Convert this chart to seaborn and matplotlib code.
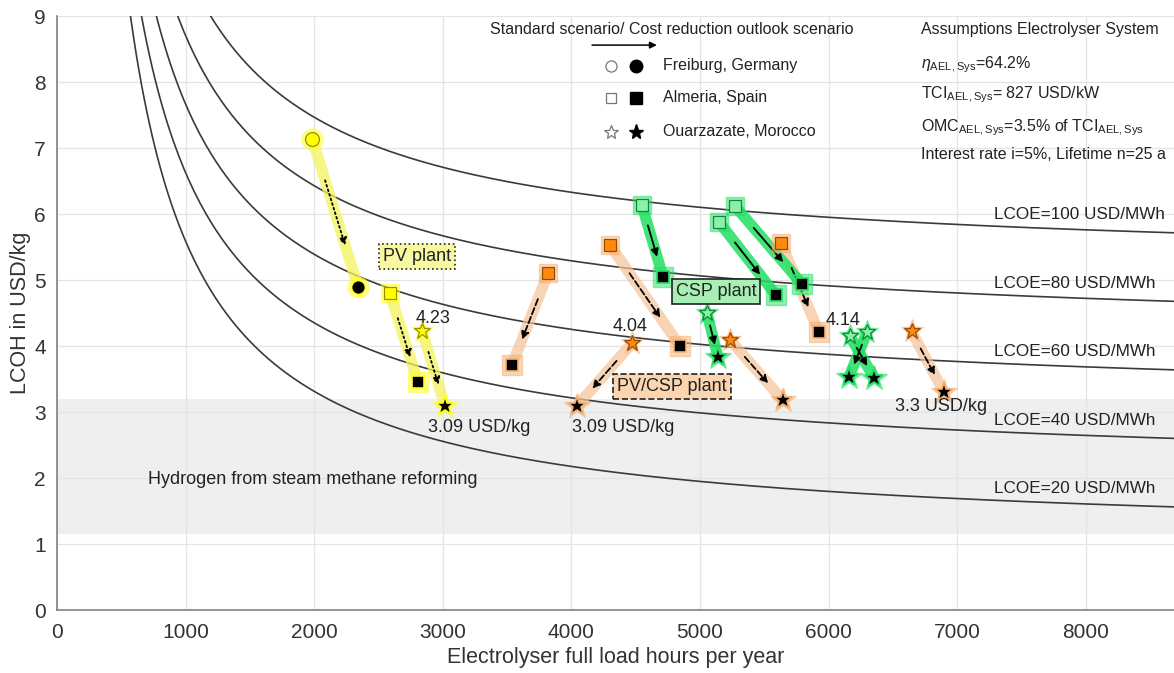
import numpy as np
import pandas as pd
import matplotlib
matplotlib.use("Agg")
import matplotlib.pyplot as plt
import seaborn as sns

# ---------------- data ----------------
# assumptions (from the chart text) used for the LCOE iso-lines
lcoe_levels = [20, 40, 60, 80, 100]          # USD/MWh
eta_sys = 0.642
tci = 827.0                                  # USD/kW
omc_share = 0.035
interest = 0.05
lifetime = 25
lhv_h2 = 33.33                               # kWh/kg

# PV plant (start = standard scenario, end = cost reduction outlook)
pv_site = ["Freiburg", "Almeria", "Ouarzazate"]
pv_x0 = [1985, 2589, 2838]
pv_y0 = [7.14, 4.80, 4.23]
pv_x1 = [2341, 2807, 3017]
pv_y1 = [4.89, 3.45, 3.09]

# PV/CSP plant
hyb_site = ["Almeria", "Almeria", "Almeria", "Ouarzazate", "Ouarzazate", "Ouarzazate"]
hyb_x0 = [3818, 4300, 5630, 4471, 5233, 6645]
hyb_y0 = [5.10, 5.53, 5.56, 4.04, 4.09, 4.22]
hyb_x1 = [3538, 4844, 5925, 4043, 5645, 6897]
hyb_y1 = [3.71, 4.00, 4.21, 3.09, 3.18, 3.30]

# CSP plant
csp_site = ["Almeria", "Almeria", "Almeria", "Ouarzazate", "Ouarzazate", "Ouarzazate"]
csp_x0 = [4549, 5148, 5272, 5054, 6166, 6299]
csp_y0 = [6.13, 5.88, 6.12, 4.50, 4.15, 4.21]
csp_x1 = [4712, 5591, 5793, 5140, 6353, 6159]
csp_y1 = [5.05, 4.77, 4.94, 3.83, 3.52, 3.53]

# value annotations
ann_text = ["4.23", "3.09 USD/kg", "4.04", "3.09 USD/kg", "4.14", "3.3 USD/kg"]
ann_x = [2924, 3282, 4456, 4401, 6112, 6874]
ann_y = [4.42, 2.77, 4.30, 2.77, 4.39, 3.09]

# plant labels
plant_text = ["PV plant", "PV/CSP plant", "CSP plant"]
plant_x = [2799, 4782, 5124]
plant_y = [5.36, 3.38, 4.82]

smr_low, smr_high = 1.15, 3.2
lcoe_label_x = 7290

x_ticks = [0, 1000, 2000, 3000, 4000, 5000, 6000, 7000, 8000]
y_ticks = [0, 1, 2, 3, 4, 5, 6, 7, 8, 9]

# ---------------- style ----------------
sns.set_theme(style="white")
plt.rcParams["font.family"] = ["Liberation Sans", "DejaVu Sans"]
plt.rcParams["mathtext.fontset"] = "custom"
plt.rcParams["mathtext.rm"] = "Liberation Sans"
plt.rcParams["mathtext.it"] = "Liberation Sans:italic"
plt.rcParams["mathtext.bf"] = "Liberation Sans:bold"

W, H = 1174, 673
fig = plt.figure(figsize=(W / 100, H / 100), dpi=100)
ax = fig.add_axes([57 / W, 63 / H, 1117 / W, 594 / H])
ax.set_xlim(0, 8686)
ax.set_ylim(0, 9)

ax.axhspan(smr_low, smr_high, color="#efefef", zorder=0, lw=0)
ax.set_xticks(x_ticks)
ax.set_yticks(y_ticks)
ax.grid(True, color="#e4e4e4", lw=0.9, zorder=0.5)
ax.set_axisbelow(True)

# LCOE iso-lines
spec_cons = lhv_h2 / eta_sys                      # kWh_el per kg H2
annuity = interest * (1 + interest) ** lifetime / ((1 + interest) ** lifetime - 1)
fix_cost = tci * (annuity + omc_share) * spec_cons  # USD*h/kg
flh = np.linspace(450, 8700, 400)
rows = []
for lc in lcoe_levels:
    for f in flh:
        rows.append({"lcoe": lc, "flh": f, "lcoh": lc / 1000 * spec_cons + fix_cost / f})
curves = pd.DataFrame(rows)
sns.lineplot(data=curves, x="flh", y="lcoh", units="lcoe", estimator=None,
             color="#3a3a3a", lw=1.2, legend=False, ax=ax, zorder=1)
for lc in lcoe_levels:
    yv = lc / 1000 * spec_cons + fix_cost / lcoe_label_x
    ax.text(lcoe_label_x, yv + 0.06, f"LCOE={lc} USD/MWh", fontsize=12.3,
            color="#222", ha="left", va="bottom", zorder=6)

ax.set_xlabel("Electrolyser full load hours per year", fontsize=15.5, color="#333")
ax.set_ylabel("LCOH in USD/kg", fontsize=15.5, color="#333")

markers = {"Freiburg": "o", "Almeria": "s", "Ouarzazate": "*"}
msize = {"o": 10, "s": 8, "*": 12}
msize_end = {"o": 10, "s": 9, "*": 14}

techs = [
    dict(site=pv_site, x0=pv_x0, y0=pv_y0, x1=pv_x1, y1=pv_y1, band="#f4f45c", balpha=0.75,
         face="#ffff00", edge="#9a9000", halo="#ffff20", ls=":"),
    dict(site=hyb_site, x0=hyb_x0, y0=hyb_y0, x1=hyb_x1, y1=hyb_y1, band="#f6c398", balpha=0.7,
         face="#ff8a10", edge="#9a4a00", halo="#f5b070", ls="--"),
    dict(site=csp_site, x0=csp_x0, y0=csp_y0, x1=csp_x1, y1=csp_y1, band="#1fe060", balpha=0.85,
         face="#8ef0a6", edge="#0a8a3a", halo="#25e065", ls="-"),
]

for t in techs:
    for s, a, b, c, d in zip(t["site"], t["x0"], t["y0"], t["x1"], t["y1"]):
        ax.plot([a, c], [b, d], color=t["band"], lw=8, alpha=t["balpha"],
                solid_capstyle="round", zorder=2)
        ax.annotate("", xy=(a + 0.72 * (c - a), b + 0.72 * (d - b)),
                    xytext=(a + 0.28 * (c - a), b + 0.28 * (d - b)),
                    arrowprops=dict(arrowstyle="-|>", color="black", lw=1.3,
                                    linestyle=t["ls"], mutation_scale=11,
                                    shrinkA=0, shrinkB=0), zorder=3)
        m = markers[s]
        ax.plot([a], [b], marker=m, ms=msize[m] + 5, color=t["halo"], alpha=0.5,
                ls="none", zorder=3.5)
        ax.plot([a], [b], marker=m, ms=msize[m], mfc=t["face"], mec=t["edge"], mew=0.9,
                ls="none", zorder=4)
        ax.plot([c], [d], marker=m, ms=msize_end[m] + 5, color=t["halo"], alpha=0.5,
                ls="none", zorder=3.5)
        ax.plot([c], [d], marker=m, ms=msize_end[m], mfc="black", mec=t["halo"], mew=1.2,
                ls="none", zorder=4)

for txt, x, y in zip(ann_text, ann_x, ann_y):
    ax.text(x, y, txt, fontsize=13, color="#222", ha="center", va="center", zorder=6)

boxstyles = [("#f8f8a0", ":"), ("#fbd4b0", "--"), ("#a8efb6", "-")]
for txt, x, y, (fc, ls) in zip(plant_text, plant_x, plant_y, boxstyles):
    ax.text(x, y, txt, fontsize=13, color="#222", ha="center", va="center", zorder=6,
            bbox=dict(boxstyle="square,pad=0.22", fc=fc, ec="#222", lw=1.2, ls=ls))

ax.text(708, (smr_low + smr_high) / 2 - 0.2, "Hydrogen from steam methane reforming",
        fontsize=13, color="#222", ha="left", va="center", zorder=6)

# scenario legend (axes fraction)
tA = ax.transAxes
ax.text(0.388, 0.978, "Standard scenario/ Cost reduction outlook scenario", transform=tA,
        fontsize=11.5, color="#222", ha="left", va="center")
ax.annotate("", xy=(0.537, 0.951), xytext=(0.479, 0.951), xycoords=tA, textcoords=tA,
            arrowprops=dict(arrowstyle="-|>", color="black", lw=1.1, mutation_scale=10,
                            shrinkA=0, shrinkB=0))
leg_rows = [("o", "Freiburg, Germany", 0.916), ("s", "Almeria, Spain", 0.862),
            ("*", "Ouarzazate, Morocco", 0.805)]
for m, lab, yy in leg_rows:
    ms = {"o": 8, "s": 7, "*": 10}[m]
    ax.plot([0.496], [yy], marker=m, ms=ms, mfc="white", mec="#777", mew=0.9, ls="none",
            transform=tA)
    ax.plot([0.518], [yy], marker=m, ms=ms + 1, mfc="black", mec="black", ls="none",
            transform=tA)
    ax.text(0.5425, yy, lab, transform=tA, fontsize=11.5, color="#222", ha="left", va="center")

assump = [("Assumptions Electrolyser System", 0.978),
          (r"$\eta_{\mathrm{AEL,Sys}}$=64.2%", 0.918),
          (r"TCI$_{\mathrm{AEL,Sys}}$= 827 USD/kW", 0.868),
          (r"OMC$_{\mathrm{AEL,Sys}}$=3.5% of TCI$_{\mathrm{AEL,Sys}}$", 0.812),
          ("Interest rate i=5%, Lifetime n=25 a", 0.766)]
for txt, yy in assump:
    ax.text(0.7735, yy, txt, transform=tA, fontsize=11.5, color="#222", ha="left", va="center")

# axes styling
for sp in ["top", "right"]:
    ax.spines[sp].set_visible(False)
for sp in ["left", "bottom"]:
    ax.spines[sp].set_color("#777")
    ax.spines[sp].set_linewidth(1.1)
ax.tick_params(axis="both", direction="in", length=5, width=0.9, color="#777",
               labelsize=15, labelcolor="#333")
ax.tick_params(axis="x", pad=9)
ax.tick_params(axis="y", pad=8)
ax.yaxis.set_label_coords(-0.023, 0.5)
ax.xaxis.set_label_coords(0.5, -0.062)

fig.savefig("out.png", dpi=100)
